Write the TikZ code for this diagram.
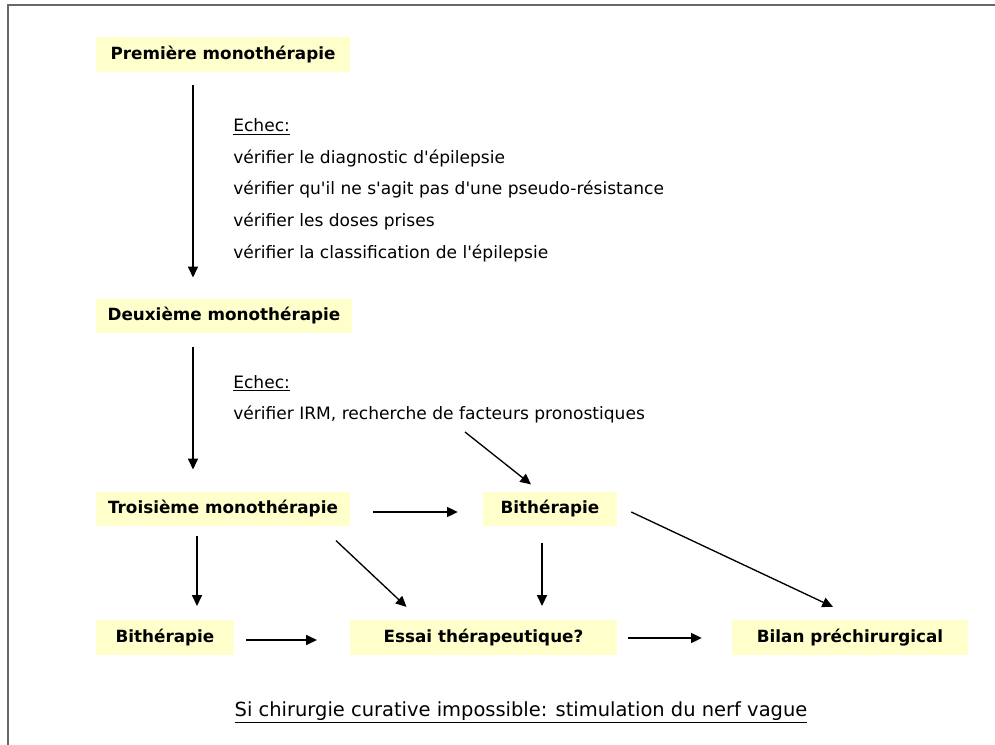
\documentclass[tikz,border=0pt]{standalone}
\usepackage{fontspec}
\setmainfont{DejaVu Sans}
\usetikzlibrary{arrows.meta, positioning}

\definecolor{boxyellow}{RGB}{255,255,204}
\definecolor{framegray}{RGB}{105,105,105}
\newcommand{\apo}{\textquotesingle}

\tikzset{
  stage/.style={fill=boxyellow, inner sep=0pt, minimum height=26pt,
    font=\fontsize{12.6}{15}\selectfont\bfseries},
  note/.style={anchor=base west, inner sep=0pt, font=\fontsize{12.8}{15}\selectfont},
  flow/.style={->, line width=1pt},
}

\begin{document}
\begin{tikzpicture}[x=0.75pt, y=-0.75pt, >={Triangle[length=8pt, width=7.5pt]}]
    \useasboundingbox (0,0) rectangle (995,745);
    \draw[framegray, line width=1.2pt] (8,745) -- (8,5) -- (995,5);

    % the three monotherapies
    \node[stage, minimum width=190.5pt] (mono1) at (223,54.5) {Première monothérapie};
    \node[stage, minimum width=192pt] (mono2) at (224,316) {Deuxième monothérapie};
    \node[stage, minimum width=190.5pt] (mono3) at (223,509) {Troisième monothérapie};
    \node[stage, minimum width=100.5pt] (bithB) at (550,509) {Bithérapie};

    % bottom row
    \node[stage, minimum width=103.5pt] (bithA) at (165,637.5) {Bithérapie};
    \node[stage, minimum width=200pt] (essai) at (483.5,637.5) {Essai thérapeutique?};
    \node[stage, minimum width=177pt] (bilan) at (850,637.5) {Bilan préchirurgical};

    % failure notes
    \foreach \txt [count=\i from 0] in {\underline{Echec:},
        vérifier le diagnostic d\apo épilepsie,
        vérifier qu\apo il ne s\apo agit pas d\apo une pseudo-résistance,
        vérifier les doses prises,
        vérifier la classification de l\apo épilepsie}
      \node[note] (echecA\i) at (233,132+31.5*\i) {\txt};
    \node[note] (echecB0) at (233,388) {\underline{Echec:}};
    \node[note] (echecB1) at (233,419) {vérifier IRM, recherche de facteurs pronostiques};
    \coordinate (irm) at (465,432);

    \node[note, anchor=base, font=\fontsize{14.6}{17}\selectfont] (vagus) at (521,716)
      {\underline{Si chirurgie curative impossible: stimulation du nerf vague}};

    % connectors
    \draw[flow] ([shift={(-30,13)}]mono1.south) -- ([shift={(-31,-21)}]mono2.north);
    \draw[flow] ([shift={(-31,13)}]mono2.south) -- ([shift={(-30,-22)}]mono3.north);
    \draw[flow] (irm) -- ([shift={(-19,-7)}]bithB.north);
    \draw[flow] ([shift={(23,3)}]mono3.east) -- ([shift={(-25,3)}]bithB.west);
    \draw[flow] ([shift={(-26,9)}]mono3.south) -- ([shift={(32,-14)}]bithA.north);
    \draw[flow] ([shift={(113,14)}]mono3.south) -- ([shift={(-77,-13)}]essai.north);
    \draw[flow] ([shift={(-8,16)}]bithB.south) -- ([shift={(58.5,-14)}]essai.north);
    \draw[flow] ([shift={(14,3)}]bithB.east) -- ([shift={(-17,-13)}]bilan.north);
    \draw[flow] ([shift={(12,2.5)}]bithA.east) -- ([shift={(-33,2.5)}]essai.west);
    \draw[flow] ([shift={(11,0.5)}]essai.east) -- ([shift={(-30,0.5)}]bilan.west);
\end{tikzpicture}
\end{document}
